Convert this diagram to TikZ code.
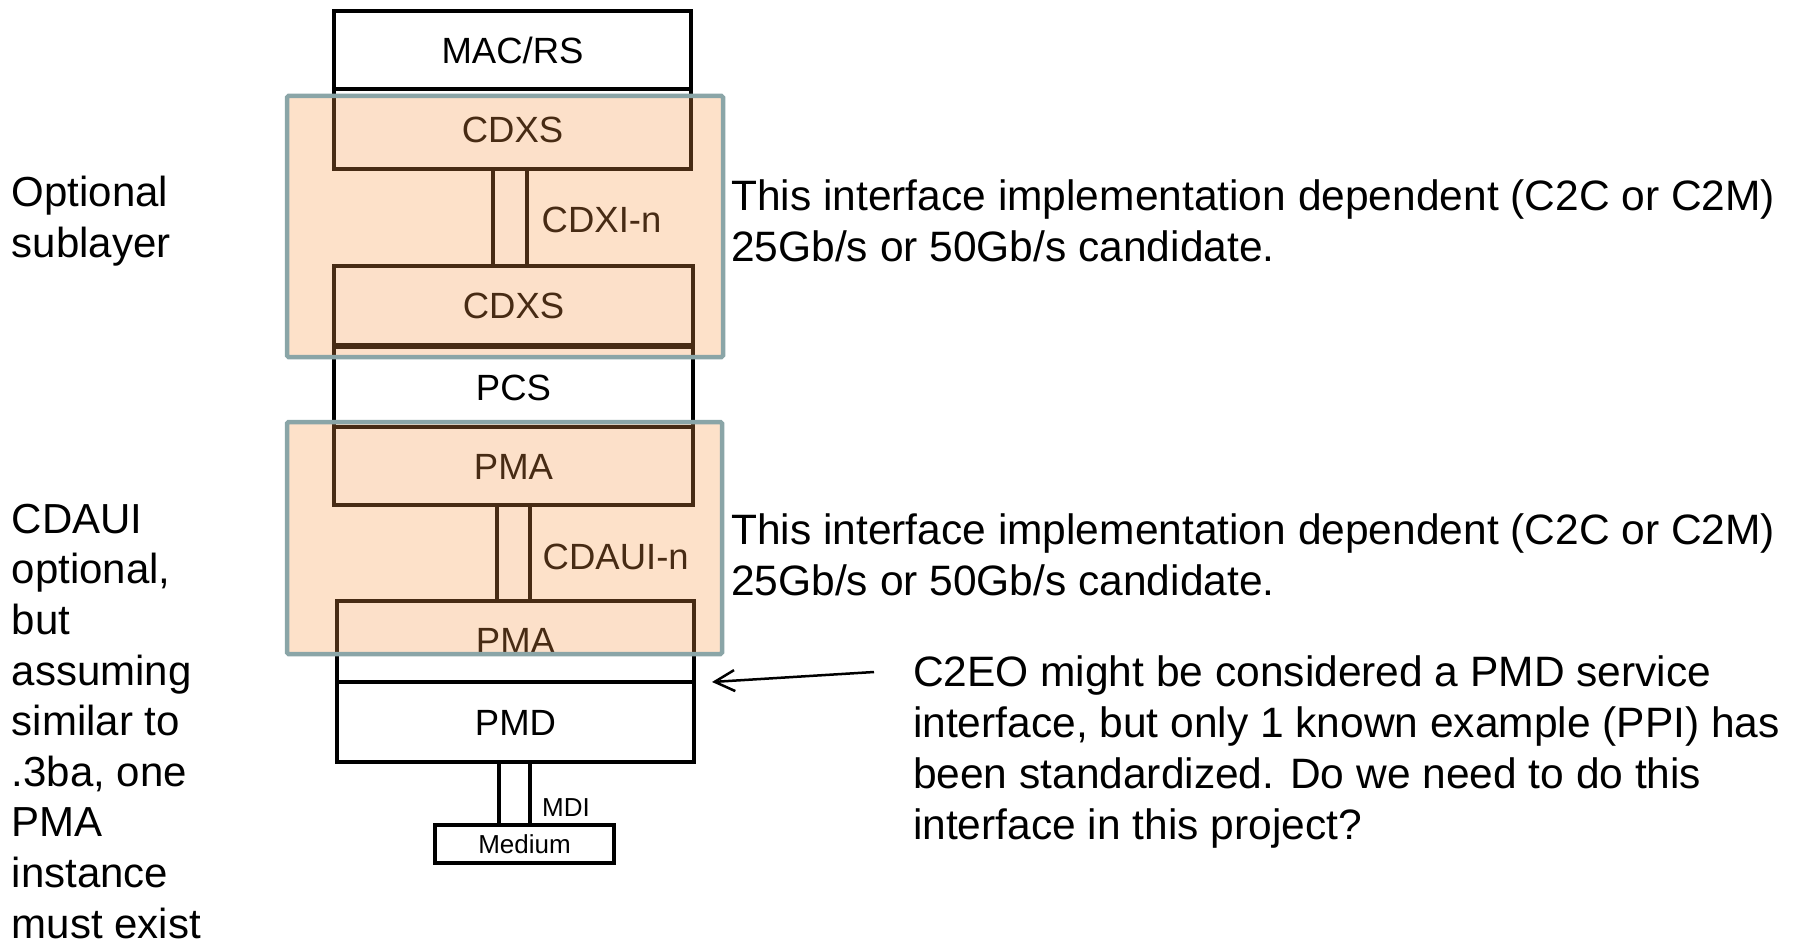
\documentclass[tikz,border=0pt]{standalone}
\usepackage{fontspec}
\setmainfont{Liberation Sans}
\usetikzlibrary{arrows.meta}
\definecolor{optfill}{RGB}{247,150,70}
\definecolor{optframe}{RGB}{138,165,167}

\begin{document}
\begin{tikzpicture}[x=1pt,y=-1pt,
  layer/.style={draw=black, line width=3.5pt, fill=white, inner sep=0pt, outer sep=0pt,
    font=\fontsize{36.5}{40}\selectfont, text height=26.1pt, text depth=0pt},
  ifbar/.style={draw=black, line width=3.5pt, fill=white},
  iflabel/.style={inner sep=0pt, anchor=west, font=\fontsize{36.5}{40}\selectfont,
    text height=26.1pt, text depth=0pt},
  smalllayer/.style={layer, font=\fontsize{26}{30}\selectfont, text height=18.6pt},
  smalllabel/.style={iflabel, font=\fontsize{26}{30}\selectfont, text height=18.6pt},
  optblock/.style={draw=optframe, line width=4.5pt, fill=optfill, fill opacity=0.29,
    draw opacity=1, rounded corners=1.5pt, inner sep=0pt, outer sep=0pt},
  % multi-line notes are placed by the baseline of their last line
  sidenote/.style={inner sep=0pt, align=left, anchor=base west,
    font=\fontsize{42}{50.6}\selectfont},
  rightnote/.style={sidenote, font=\fontsize{42.5}{51}\selectfont},
  pointer/.style={-{Straight Barb[length=20pt,width=21pt]}, line width=2.5pt, black}
]
\useasboundingbox (0,0) rectangle (1798,944);

% sublayer stack
\node[layer, minimum width=357pt, minimum height=78pt] (mac) at (512.5,50) {MAC/RS};
\node[layer, minimum width=357pt, minimum height=80pt] (cdxs1) at (512.5,129) {CDXS};
\node[layer, minimum width=359pt, minimum height=80pt] (pcs) at (513.5,387) {PCS};
\node[layer, minimum width=359pt, minimum height=79pt] (cdxs2) at (513.5,305.5) {CDXS};
\node[layer, minimum width=359pt, minimum height=78pt] (pma1) at (513.5,466) {PMA};
\node[layer, minimum width=357pt, minimum height=81pt] (pma2) at (515.5,641.5) {};
\node[layer, minimum width=357pt, minimum height=80pt] (pmd) at (515.5,722) {PMD};
\node[smalllayer, minimum width=179pt, minimum height=38pt] (medium) at (524.5,844) {Medium};
\node[layer, draw=none, fill=none] (pma2label) at (515.5,640) {PMA};

% interfaces between sublayers
\draw[ifbar] ([xshift=-19.5pt]cdxs1.south) rectangle ([xshift=13.5pt]cdxs2.north);
\draw[ifbar] ([xshift=-16.5pt]pma1.south) rectangle ([xshift=14.5pt]pma2.north);
\draw[ifbar] ([xshift=-16.5pt]pmd.south) rectangle ([xshift=5.5pt]medium.north);

\node[iflabel] (cdxi) at (541.5,219) {CDXI-n};
\node[iflabel] (cdaui) at (542.5,556.7) {CDAUI-n};
\node[smalllabel] (mdi) at (542,807.5) {MDI};

% optional blocks
\node[optblock, minimum width=436pt, minimum height=261pt] (opt1) at (505,226.5) {};
\node[optblock, minimum width=435pt, minimum height=232pt] (opt2) at (504.5,538) {};

% annotations
\node[sidenote] (optnote) at (11.5,257.5) {Optional\\sublayer};
\node[sidenote] (cdauinote) at (11.5,938) {CDAUI\\optional,\\but\\assuming\\similar to\\.3ba, one\\PMA\\instance\\must exist};
\node[rightnote] (cdxinote) at (731,261.5) {This interface implementation dependent (C2C or C2M)\\25Gb/s or 50Gb/s candidate.};
\node[rightnote] (cdauiifnote) at (731,595) {This interface implementation dependent (C2C or C2M)\\25Gb/s or 50Gb/s candidate.};
\node[rightnote] (c2eonote) at (912.8,839.5) {C2EO might be considered a PMD service\\interface, but only 1 known example (PPI) has\\been standardized.  Do we need to do this\\interface in this project?};

\coordinate (c2eotail) at (874,672);
\coordinate (c2eotip) at (712,682);
\draw[pointer] (c2eotail) -- (c2eotip);
\end{tikzpicture}
\end{document}
